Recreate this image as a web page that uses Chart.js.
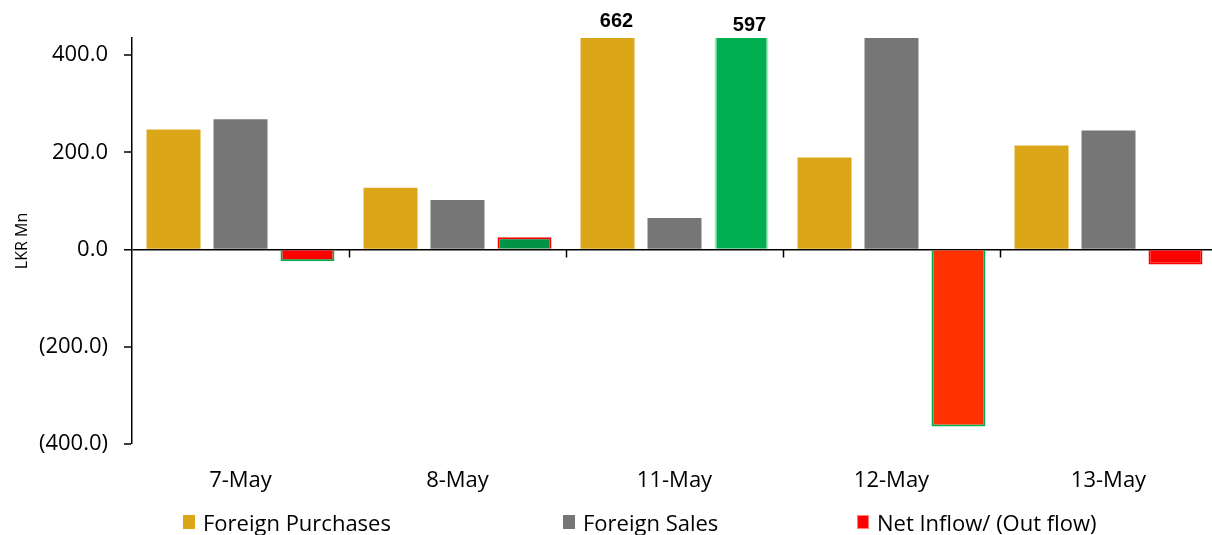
<!DOCTYPE html>
<html><head><meta charset="utf-8">
<script src="https://cdn.jsdelivr.net/npm/chart.js@4/dist/chart.umd.min.js"></script>
<style>
html,body{margin:0;padding:0;background:#fff;overflow:hidden;width:1212px;height:535px}
#wrap{position:relative;width:1225px;height:535px}
#legend{position:absolute;left:0;top:0;width:1212px;height:535px;pointer-events:none;font-family:"Open Sans",sans-serif;font-size:22px;color:#000}
.li{position:absolute;top:507px;display:flex;align-items:center;white-space:nowrap;height:30px}
.sw{width:12px;height:14px;margin-right:8px;box-sizing:border-box}
</style></head>
<body>
<div id="wrap">
<canvas id="c" width="1225" height="535"></canvas>
<div id="legend"></div>
</div>
<script>
const categories = ['7-May','8-May','11-May','12-May','13-May'];
const foreignPurchases = [247, 127, 662, 189, 214];
const foreignSales = [268, 102, 65, 553, 245];
const netFlow = [-24, 25, 597, -364, -31];
const yTickValues = [-400, -200, 0, 200, 400];
const seriesNames = ['Foreign Purchases','Foreign Sales','Net Inflow/ (Out flow)'];
const labelledValues = [[0,2],[2,2]]; // [datasetIndex, categoryIndex]
const labelNudges = [[9,-7],[8,-3]]; // style: [dx, dy] for each value label

const FONT = '"Open Sans", sans-serif';

const netFill = ['#FF0000','#009245','#00B050','#FF3300','#FF0000'];
const netBorder = ['#00B050','#FF0000','#A8E6C0','#00B050','#FF0000'];

const catTicks = {
  id:'catTicks',
  afterDatasetsDraw(chart){
    const {ctx, scales:{x,y}} = chart;
    const y0 = y.getPixelForValue(0);
    ctx.save();
    ctx.strokeStyle='#000'; ctx.lineWidth=1.5;
    for(let i=1;i<categories.length;i++){
      const px = Math.round((x.getPixelForTick(i-1)+x.getPixelForTick(i))/2)+0.5;
      ctx.beginPath(); ctx.moveTo(px,y0); ctx.lineTo(px,y0+8); ctx.stroke();
    }
    ctx.fillStyle='#000'; ctx.font='bold 20px "Liberation Sans", Arial, sans-serif';
    ctx.textAlign='center'; ctx.textBaseline='bottom';
    const vals=[foreignPurchases,foreignSales,netFlow];
    labelledValues.forEach(([di, ci], k)=>{
      const el = chart.getDatasetMeta(di).data[ci];
      ctx.fillText(String(vals[di][ci]), el.x+labelNudges[k][0], chart.chartArea.top+labelNudges[k][1]);
    });
    ctx.restore();
  }
};

new Chart(document.getElementById('c'), {
  type:'bar',
  data:{
    labels:categories,
    datasets:[
      {label:seriesNames[0], data:foreignPurchases, backgroundColor:'#DBA618', borderWidth:0},
      {label:seriesNames[1], data:foreignSales, backgroundColor:'#767676', borderWidth:0},
      {label:seriesNames[2], data:netFlow, backgroundColor:netFill, borderColor:netBorder, borderWidth:2}
    ]
  },
  options:{
    responsive:false, animation:false,
    layout:{padding:{left:0,right:8,top:38,bottom:0}},
    categoryPercentage:0.926, barPercentage:0.806,
    plugins:{legend:{display:false}, tooltip:{enabled:false}},
    scales:{
      x:{
        grid:{display:false, drawTicks:false},
        border:{display:false},
        ticks:{color:'#000', font:{family:FONT, size:22}, padding:24, maxRotation:0},
        afterFit(s){ s.height = 91; }
      },
      y:{
        min:-400, max:435,
        ticks:{stepSize:200, color:'#000', font:{family:FONT, size:22}, padding:16,
          callback:(v)=> v<0 ? '('+Math.abs(v).toFixed(1)+')' : v.toFixed(1)},
        afterBuildTicks(s){ s.ticks = yTickValues.map(v=>({value:v})); },
        grid:{drawOnChartArea:true, tickLength:8, tickColor:'#000', tickWidth:1.5,
          color:(c)=> (c.tick && c.tick.value===0) ? '#000' : 'rgba(0,0,0,0)',
          lineWidth:(c)=> (c.tick && c.tick.value===0) ? 1.5 : 0},
        border:{display:true, color:'#000', width:1.5},
        title:{display:true, text:'LKR Mn', color:'#000', font:{family:FONT, size:16}, padding:{top:13,bottom:0}},
        afterFit(s){ s.width = 132; }
      }
    }
  },
  plugins:[catTicks]
});

const legendColors = [['#DBA618','#DBA618'],['#767676','#767676'],['#FF0000','#FF8080']];
const legendLeft = [183, 563, 857];
const lg = document.getElementById('legend');
seriesNames.forEach((n,i)=>{
  const d=document.createElement('div'); d.className='li'; d.style.left=legendLeft[i]+'px';
  const s=document.createElement('div'); s.className='sw'; s.style.background=legendColors[i][0];
  if(i===2) s.style.border='1px solid '+legendColors[i][1];
  const t=document.createElement('span'); t.textContent=n;
  d.appendChild(s); d.appendChild(t); lg.appendChild(d);
});
</script>
</body></html>
